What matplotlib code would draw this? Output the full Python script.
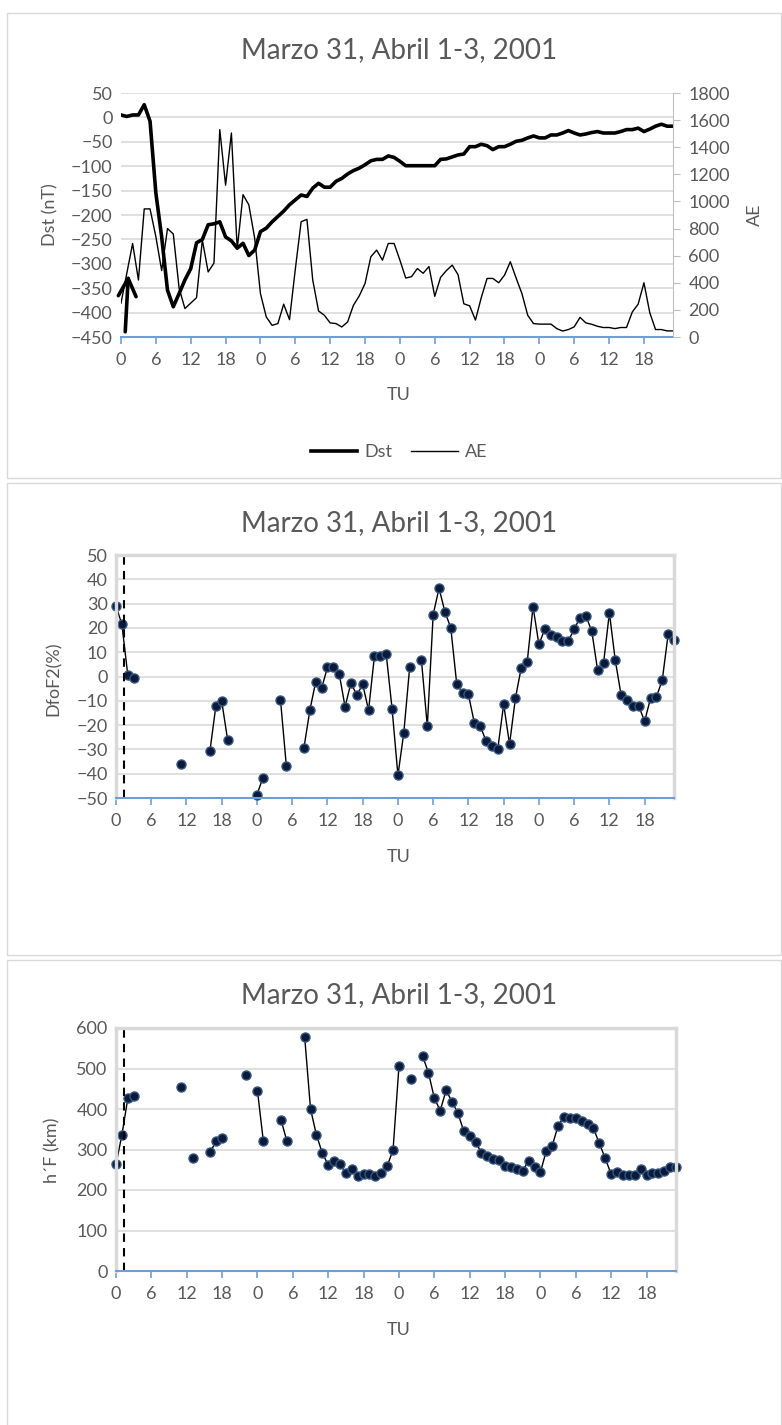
import numpy as np
import matplotlib
matplotlib.use("Agg")
import matplotlib.pyplot as plt
from matplotlib.ticker import MultipleLocator
from matplotlib.patches import Rectangle
from matplotlib.lines import Line2D

plt.rcParams['font.family'] = ['Lato', 'DejaVu Sans']

nan = np.nan
title = "Marzo 31, Abril 1-3, 2001"
hours = np.arange(96)
tick_pos = np.arange(0, 96, 6)
tick_lab = [str(h % 24) for h in tick_pos]

# Dst (nT), hourly
dst = [5, 2, 5, 5, 26, -8, -155, -245, -354, -388, -361, -333, -310, -257, -250, -220,
       -218, -214, -245, -253, -268, -258, -283, -272, -234, -227, -214, -203, -192, -179, -169, -159,
       -162, -145, -135, -143, -143, -131, -125, -116, -109, -104, -97, -89, -86, -86, -79, -82,
       -90, -99, -99, -99, -99, -99, -99, -86, -85, -81, -77, -75, -60, -60, -55, -58,
       -66, -60, -60, -55, -49, -47, -42, -38, -42, -42, -36, -36, -32, -27, -32, -36,
       -34, -31, -29, -32, -32, -32, -29, -25, -25, -22, -29, -24, -18, -14, -18, -18]

# AE (nT), hourly
ae = [250, 470, 690, 420, 945, 945, 740, 490, 800, 760, 360, 210, 250, 290, 715, 480,
      545, 1530, 1120, 1505, 650, 1050, 975, 730, 320, 148, 86, 99, 242, 128, 500, 850,
      868, 420, 192, 160, 104, 99, 74, 111, 234, 303, 395, 592, 641, 567, 690, 690,
      567, 435, 445, 505, 470, 520, 300, 440, 490, 530, 460, 245, 230, 125, 290, 432,
      432, 400, 456, 555, 435, 320, 160, 99, 95, 95, 95, 62, 44, 55, 75, 145,
      104, 94, 79, 70, 70, 62, 70, 70, 185, 242, 400, 180, 55, 55, 45, 45]

# DfoF2 (%)
dfof2 = [29, 21.5, 0.8, -0.8, nan, nan, nan, nan, nan, nan, nan, -36, nan, nan, nan, nan,
         -30.5, -12.2, -10.2, -26, nan, nan, nan, nan, -48.6, -41.8, nan, nan, -9.5, -36.8, nan, nan,
         -29.3, -13.9, -2.2, -4.9, 3.8, 3.8, 1.2, -12.5, -2.6, -7.7, -3.2, -13.9, 8.5, 8.5, 9.3, -13.2,
         -40.7, -23.1, 3.8, nan, 6.7, -20.5, 25.5, 36.3, 26.6, 20, -2.9, -6.7, -7.4, -19, -20.3, -26.5,
         -28.4, -29.8, -11.4, -27.9, -9, 3.7, 5.8, 28.7, 13.2, 19.5, 17, 16.3, 14.6, 14.6, 19.5, 24.2,
         24.9, 18.7, 2.5, 5.4, 26.2, 6.7, -7.7, -9.8, -12.2, -12.2, -18.4, -9, -8.4, -1.5, 17.3, 15.2]

# h'F (km)
hf = [263, 336, 426, 433, nan, nan, nan, nan, nan, nan, nan, 454, nan, 279, nan, nan,
      295, 320, 328, nan, nan, nan, 485, nan, 445, 320, nan, nan, 373, 320, nan, nan,
      579, 400, 336, 291, 262, 272, 263, 242, 252, 235, 239, 239, 234, 243, 259, 299,
      505, nan, 474, nan, 531, 490, 427, 396, 446, 418, 390, 345, 334, 318, 292, 285,
      276, 274, 260, 256, 252, 248, 272, 258, 244, 297, 309, 359, 381, 379, 377, 371,
      363, 352, 315, 278, 239, 245, 237, 237, 237, 252, 237, 241, 241, 248, 256, 257]

ssc_hour = 1.3        # dashed line / arrow (storm onset)
arrow_tip = -316
arrow_tail = -445

GREY = '#595959'
GRID = '#d9d9d9'
BLUE = '#6f9ed6'
W, H = 782, 1425


def px_axes(fig, left, top, right, bottom):
    return fig.add_axes([left / W, 1 - bottom / H, (right - left) / W, (bottom - top) / H])


def style_axes(ax, framed):
    ax.set_xlim(0, 95)
    ax.set_xticks(tick_pos)
    ax.set_xticklabels(tick_lab)
    ax.xaxis.set_minor_locator(MultipleLocator(12))
    ax.grid(which='minor', axis='x', color=GRID, lw=1.2)
    ax.grid(which='major', axis='y', color=GRID, lw=1.2)
    ax.tick_params(axis='x', which='major', colors=BLUE, labelcolor=GREY, length=5, width=1.2,
                   labelsize=13, pad=6)
    ax.tick_params(axis='x', which='minor', length=0)
    ax.tick_params(axis='y', length=0, labelcolor=GREY, labelsize=13, pad=6)
    ax.spines['bottom'].set_color(BLUE)
    ax.spines['bottom'].set_linewidth(1.5)
    for s in ['left', 'top', 'right']:
        if framed:
            ax.spines[s].set_color(GRID)
            ax.spines[s].set_linewidth(2.5)
        else:
            ax.spines[s].set_visible(False)
    ax.set_axisbelow(True)


fig = plt.figure(figsize=(W / 100, H / 100), dpi=100)

for top, bot in [(13, 478), (483, 955), (960, 1440)]:
    fig.add_artist(Rectangle((7 / W, 1 - bot / H), (781 - 7) / W, (bot - top) / H,
                             transform=fig.transFigure, fill=False, ec=GRID, lw=1))

# ---- panel 1: Dst and AE
ax1 = px_axes(fig, 121, 93, 673, 337)
style_axes(ax1, framed=False)
ax1.set_ylim(-450, 50)
ax1.set_yticks(np.arange(-450, 51, 50))
ax1.plot(hours, dst, color='black', lw=2.6, zorder=3)
ax1.annotate('', xy=(ssc_hour, arrow_tip), xytext=(0.7, arrow_tail),
             arrowprops=dict(arrowstyle='->', lw=2.6, color='black', mutation_scale=32))
ax1b = ax1.twinx()
ax1b.set_ylim(0, 1800)
ax1b.set_yticks(np.arange(0, 1801, 200))
ax1b.plot(hours, ae, color='black', lw=1.0)
for s in ['left', 'top', 'bottom']:
    ax1b.spines[s].set_visible(False)
ax1b.spines['right'].set_color('#bfbfbf')
ax1b.tick_params(axis='y', colors='#bfbfbf', labelcolor=GREY, labelsize=13, length=5, pad=6)

fig.text(399 / W, 1 - 50 / H, title, ha='center', va='center', fontsize=20, color=GREY)
fig.text(50 / W, 1 - 215 / H, 'Dst (nT)', rotation=90, ha='center', va='center', fontsize=13, color=GREY)
fig.text(755 / W, 1 - 215 / H, 'AE', rotation=90, ha='center', va='center', fontsize=13, color=GREY)
fig.text(399 / W, 1 - 395 / H, 'TU', ha='center', va='center', fontsize=13, color=GREY)
handles = [Line2D([], [], color='black', lw=2.6), Line2D([], [], color='black', lw=1.0)]
fig.legend(handles, ['Dst', 'AE'], loc='center', bbox_to_anchor=(399 / W, 1 - 452 / H), ncol=2,
           frameon=False, fontsize=13, handlelength=2.6, columnspacing=1.0, handletextpad=0.4,
           labelcolor=GREY)

mk = dict(marker='o', ms=6.5, mfc='#0b1a3a', mec='#34557f', mew=1.0, color='black', lw=1.0)

# ---- panel 2: DfoF2
ax2 = px_axes(fig, 116, 555, 674, 798)
style_axes(ax2, framed=True)
ax2.set_ylim(-50, 50)
ax2.set_yticks(np.arange(-50, 51, 10))
ax2.plot(hours, dfof2, clip_on=False, **mk)
ax2.axvline(ssc_hour, color='black', lw=1.5, ls=(0, (4, 3)))
fig.text(399 / W, 1 - 523 / H, title, ha='center', va='center', fontsize=20, color=GREY)
fig.text(54 / W, 1 - 679 / H, 'DfoF2(%)', rotation=90, ha='center', va='center', fontsize=13, color=GREY)
fig.text(399 / W, 1 - 857 / H, 'TU', ha='center', va='center', fontsize=13, color=GREY)

# ---- panel 3: h'F
ax3 = px_axes(fig, 116, 1028, 676, 1271)
style_axes(ax3, framed=True)
ax3.set_ylim(0, 600)
ax3.set_yticks(np.arange(0, 601, 100))
ax3.plot(hours, hf, clip_on=False, **mk)
ax3.axvline(ssc_hour, color='black', lw=1.5, ls=(0, (4, 3)))
fig.text(399 / W, 1 - 995 / H, title, ha='center', va='center', fontsize=20, color=GREY)
fig.text(52 / W, 1 - 1150 / H, 'h\u00b4F (km)', rotation=90, ha='center', va='center', fontsize=13, color=GREY)
fig.text(399 / W, 1 - 1330 / H, 'TU', ha='center', va='center', fontsize=13, color=GREY)

fig.savefig('out.png', dpi=100)
